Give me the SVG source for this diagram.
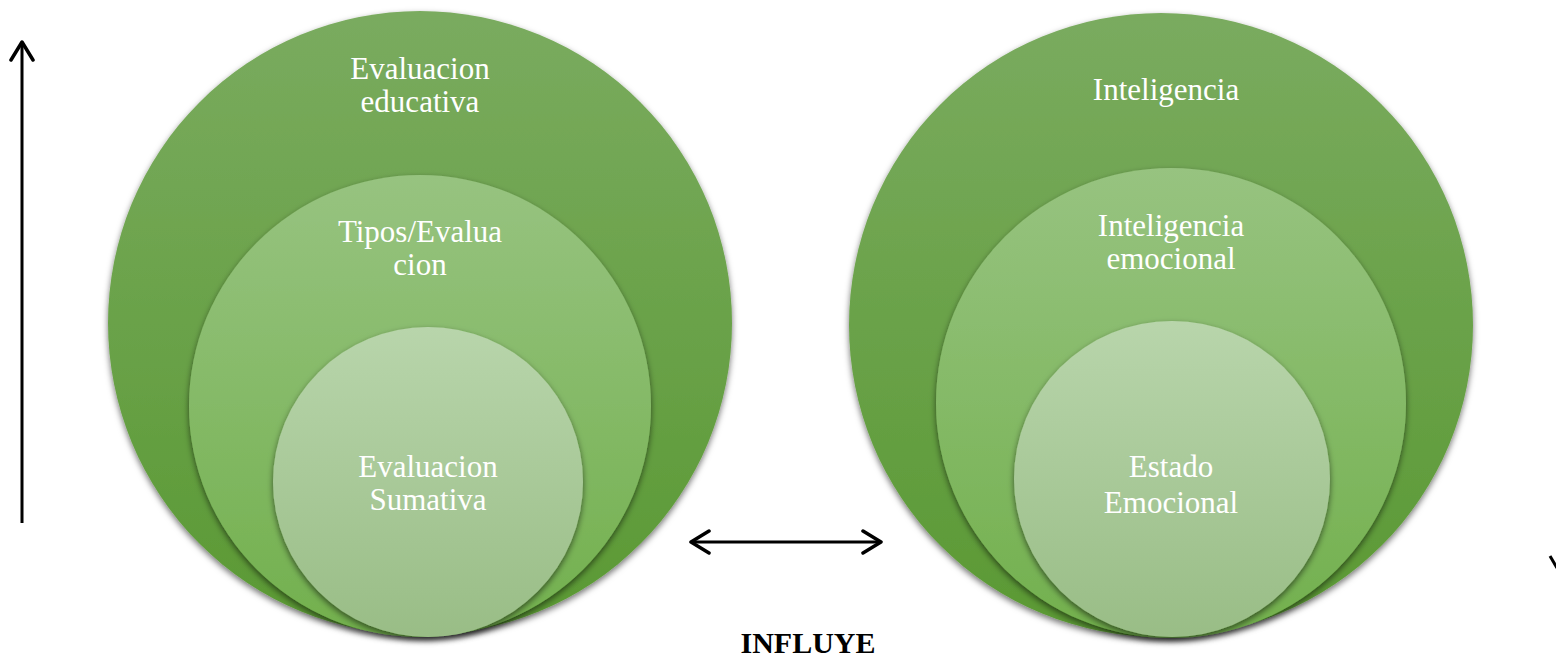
<svg xmlns="http://www.w3.org/2000/svg" width="1556" height="663" viewBox="0 0 1556 663">
<defs>
<linearGradient id="gOuter" x1="0" y1="0" x2="0" y2="1">
<stop offset="0" stop-color="#7aab5f"/>
<stop offset="1" stop-color="#5a9933"/>
</linearGradient>
<linearGradient id="gMid" x1="0" y1="0" x2="0" y2="1">
<stop offset="0" stop-color="#97c380"/>
<stop offset="1" stop-color="#72b04d"/>
</linearGradient>
<linearGradient id="gIn" x1="0" y1="0" x2="0" y2="1">
<stop offset="0" stop-color="#b8d5ab"/>
<stop offset="1" stop-color="#99bd86"/>
</linearGradient>
<filter id="sh" x="-10%" y="-10%" width="120%" height="125%">
<feDropShadow dx="0" dy="3" stdDeviation="3" flood-color="#000" flood-opacity="0.55"/>
</filter>
<marker id="chev" viewBox="0 0 22 26" refX="20" refY="13" markerWidth="22" markerHeight="26" markerUnits="userSpaceOnUse" orient="auto-start-reverse">
<path d="M2,2 L20,13 L2,24" fill="none" stroke="#000" stroke-width="3.5" stroke-linecap="round" stroke-linejoin="round"/>
</marker>
<style>
.t{font-family:"Liberation Serif","Times New Roman",serif;font-size:31px;fill:#fff;text-anchor:middle}
.lbl{font-family:"Liberation Serif","Times New Roman",serif;font-size:30px;font-weight:bold;fill:#000;text-anchor:middle}
.ln{stroke:#000;stroke-width:3;fill:none}
</style>
</defs>

<g id="evaluacion-educativa">
<circle cx="420" cy="323" r="312" fill="url(#gOuter)" filter="url(#sh)"/>
<text class="t" x="420" y="79">Evaluacion</text>
<text class="t" x="420" y="112">educativa</text>
</g>
<g id="tipos-evaluacion">
<circle cx="420" cy="406" r="231" fill="url(#gMid)" filter="url(#sh)"/>
<text class="t" x="420" y="242">Tipos/Evalua</text>
<text class="t" x="420" y="275">cion</text>
</g>
<g id="evaluacion-sumativa">
<circle cx="428" cy="482" r="155" fill="url(#gIn)" filter="url(#sh)"/>
<text class="t" x="428" y="477">Evaluacion</text>
<text class="t" x="428" y="510">Sumativa</text>
</g>

<g id="inteligencia">
<circle cx="1161" cy="325" r="312" fill="url(#gOuter)" filter="url(#sh)"/>
<text class="t" x="1166" y="100">Inteligencia</text>
</g>
<g id="inteligencia-emocional">
<circle cx="1171" cy="403" r="235" fill="url(#gMid)" filter="url(#sh)"/>
<text class="t" x="1171" y="236">Inteligencia</text>
<text class="t" x="1171" y="269">emocional</text>
</g>
<g id="estado-emocional">
<circle cx="1172" cy="479" r="158" fill="url(#gIn)" filter="url(#sh)"/>
<text class="t" x="1171" y="477">Estado</text>
<text class="t" x="1171" y="513">Emocional</text>
</g>

<g id="connectors">
<line class="ln" x1="22" y1="523" x2="22" y2="42" marker-end="url(#chev)"/>
<line class="ln" x1="691" y1="542" x2="881" y2="542" marker-start="url(#chev)" marker-end="url(#chev)"/>
<line class="ln" x1="1550" y1="556" x2="1557" y2="568"/>
</g>

<g id="influye">
<text class="lbl" x="808" y="653">INFLUYE</text>
</g>
</svg>
